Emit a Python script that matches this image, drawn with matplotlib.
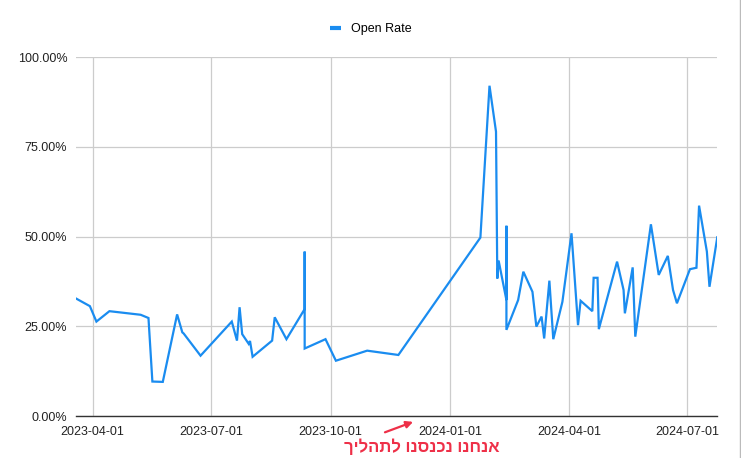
import matplotlib
matplotlib.use("Agg")
import matplotlib.pyplot as plt
import matplotlib.dates as mdates
import matplotlib.ticker as mticker
from matplotlib.lines import Line2D
import pandas as pd

plt.rcParams['font.family'] = ['Liberation Sans', 'DejaVu Sans']

# data (campaign send date, open rate in %)
send_dates = [
    "2023-03-19", "2023-03-30", "2023-04-04", "2023-04-14", "2023-05-08",
    "2023-05-14", "2023-05-17", "2023-05-25", "2023-06-05", "2023-06-09",
    "2023-06-10", "2023-06-23", "2023-07-17", "2023-07-21", "2023-07-23",
    "2023-07-25", "2023-07-30", "2023-07-31", "2023-08-02", "2023-08-17",
    "2023-08-19", "2023-08-28", "2023-09-11", "2023-09-11", "2023-09-11",
    "2023-09-27", "2023-10-05", "2023-10-29", "2023-11-22", "2024-01-24",
    "2024-01-31", "2024-02-05", "2024-02-06", "2024-02-07", "2024-02-13",
    "2024-02-13", "2024-02-13", "2024-02-22", "2024-02-26", "2024-03-04",
    "2024-03-07", "2024-03-11", "2024-03-13", "2024-03-17", "2024-03-20",
    "2024-03-27", "2024-04-03", "2024-04-08", "2024-04-10", "2024-04-19",
    "2024-04-20", "2024-04-23", "2024-04-24", "2024-05-08", "2024-05-13",
    "2024-05-14", "2024-05-20", "2024-05-22", "2024-06-03", "2024-06-09",
    "2024-06-16", "2024-06-20", "2024-06-23", "2024-07-03", "2024-07-08",
    "2024-07-10", "2024-07-16", "2024-07-18", "2024-07-24",
]
open_rate = [
    32.8, 30.6, 26.3, 29.2, 28.2,
    27.3, 9.6, 9.5, 28.3, 23.3,
    23.0, 16.8, 26.3, 21.0, 30.3,
    22.8, 20.1, 20.9, 16.5, 21.0,
    27.5, 21.4, 29.8, 45.8, 18.8,
    21.4, 15.4, 18.2, 17.0, 49.7,
    92.0, 79.2, 38.3, 43.3, 32.3,
    53.0, 24.0, 32.3, 40.2, 34.6,
    24.9, 27.7, 21.6, 37.7, 21.4,
    31.8, 50.9, 25.3, 32.1, 29.2,
    38.5, 38.5, 24.2, 43.0, 35.1,
    28.6, 41.4, 22.1, 53.4, 39.3,
    44.6, 35.1, 31.4, 40.9, 41.3,
    58.6, 45.8, 36.0, 49.8,
]
series_name = "Open Rate"
note_text = "אנחנו נכנסנו לתהליך"

dates = pd.to_datetime(send_dates)
rates = [v / 100 for v in open_rate]

fig = plt.figure(figsize=(7.41, 4.58), dpi=100)
ax = fig.add_axes([0.102, 0.0917, 0.866, 0.7838])

ax.plot(dates, rates, color="#1a8cf0", lw=1.6, label=series_name,
        solid_joinstyle="miter")

ax.set_ylim(0, 1)
ax.set_xlim(dates[0], dates[-1])
ax.yaxis.set_major_locator(mticker.MultipleLocator(0.25))
ax.yaxis.set_major_formatter(mticker.FuncFormatter(lambda v, p: f"{v*100:.2f}%"))
ax.xaxis.set_major_locator(mdates.MonthLocator(bymonth=[1, 4, 7, 10]))
ax.xaxis.set_major_formatter(mdates.DateFormatter("%Y-%m-%d"))

ax.grid(True, color="#cccccc", lw=0.9)
ax.set_axisbelow(True)
for s in ["top", "right", "left"]:
    ax.spines[s].set_visible(False)
ax.spines["bottom"].set_color("#333333")
ax.spines["bottom"].set_linewidth(1.0)
ax.tick_params(length=0, labelsize=9, colors="#222222", pad=6)
ax.tick_params(axis="x", pad=7)

leg = fig.legend(handles=[Line2D([], [], color="#1a8cf0", lw=3,
                                 solid_capstyle="butt")],
                 labels=[series_name], loc="center",
                 bbox_to_anchor=(0.5, 0.936), frameon=False, fontsize=9,
                 handlelength=0.95, handletextpad=0.75)

# hebrew note below the axis (matplotlib has no bidi, so reverse for display)
fig.text(0.5695, 0.025, note_text[::-1], color="#ee3048", fontsize=12,
         fontweight="bold", ha="center", va="center")
ax.annotate("", xy=(0.561, 0.081), xycoords="figure fraction",
            xytext=(0.516, 0.054), textcoords="figure fraction",
            arrowprops=dict(arrowstyle="-|>", color="#ee3048", lw=1.6,
                            mutation_scale=10))

# right border of the chart frame
fig.add_artist(Line2D([0.9985, 0.9985], [0, 1], transform=fig.transFigure,
                      color="#bbbbbb", lw=1))

fig.savefig("out.png", dpi=100)
